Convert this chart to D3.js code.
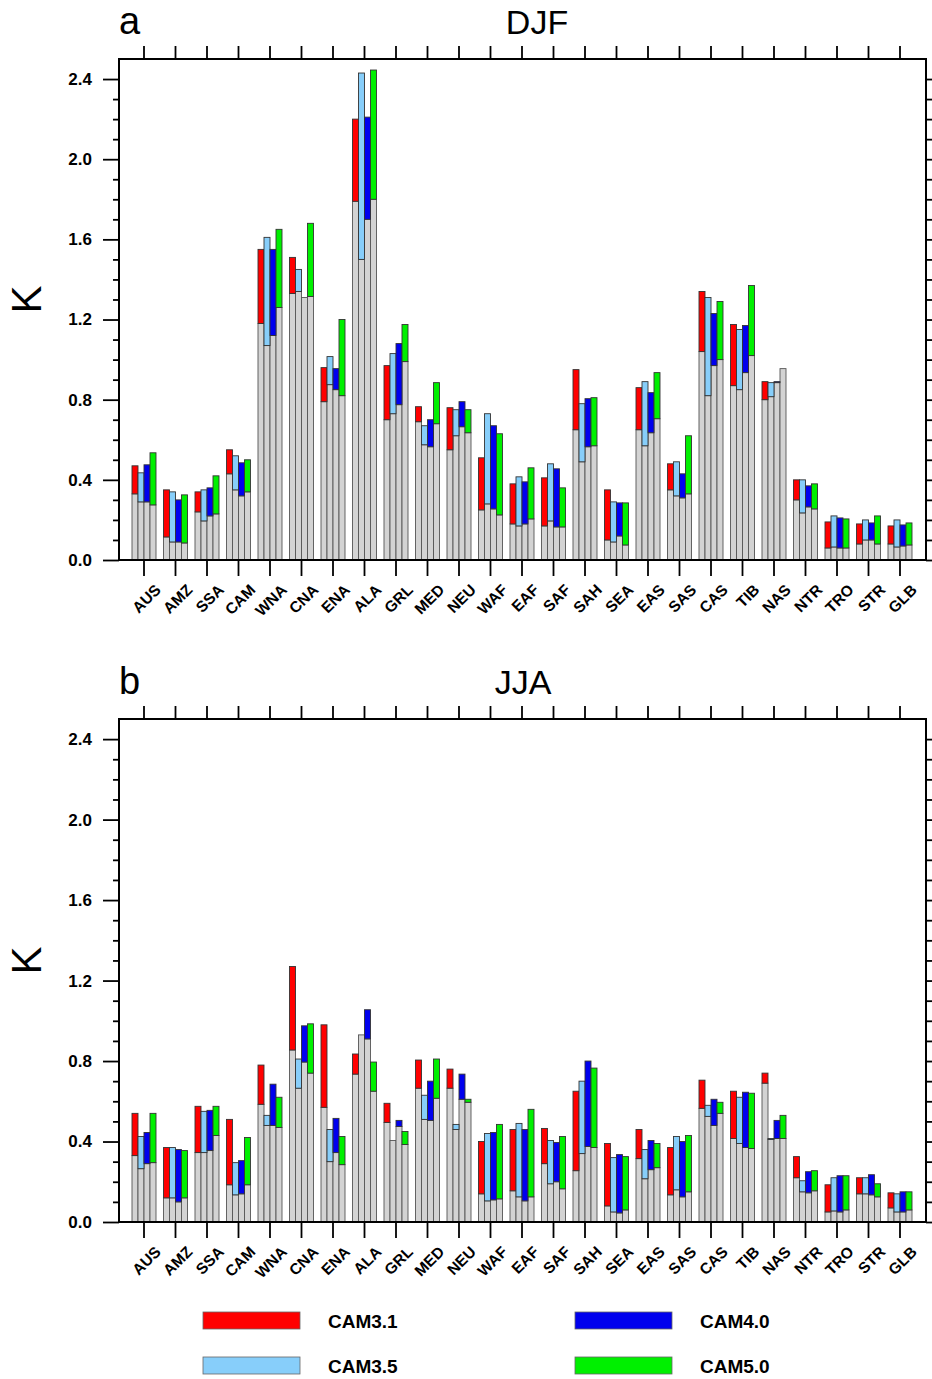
<!DOCTYPE html>
<html lang="en">
<head>
<meta charset="utf-8">
<style>
  body { margin: 0; background: #fff; }
  text { font-family: "Liberation Sans", Arial, Helvetica, sans-serif; fill: #000; }
  .axis path.domain { display: none; }
  .axis line { stroke: #000; stroke-width: 1.8; }
</style>
<script src="https://d3js.org/d3.v7.min.js"></script>
</head>
<body>
<svg width="932" height="1379"></svg>
<script>
var regions = ["AUS", "AMZ", "SSA", "CAM", "WNA", "CNA", "ENA", "ALA", "GRL", "MED", "NEU", "WAF", "EAF",
               "SAF", "SAH", "SEA", "EAS", "SAS", "CAS", "TIB", "NAS", "NTR", "TRO", "STR", "GLB"];
var models = ["CAM3.1", "CAM3.5", "CAM4.0", "CAM5.0"];
var colors = ["#ff0000", "#87cefa", "#0000ee", "#00f000"];
var yTicks = [0, 0.4, 0.8, 1.2, 1.6, 2.0, 2.4];
var yMinor = [0.1, 0.2, 0.3, 0.5, 0.6, 0.7, 0.9, 1.0, 1.1, 1.3, 1.4, 1.5, 1.7, 1.8, 1.9, 2.1, 2.2, 2.3];

// DJF: low end (grey part) and high end of each model's range
var djfLow31 = [0.33, 0.115, 0.24, 0.43, 1.18, 1.33, 0.79, 1.79, 0.70, 0.69, 0.55, 0.25, 0.18, 0.17, 0.65, 0.10, 0.65, 0.35, 1.04, 0.87, 0.80, 0.30, 0.06, 0.08, 0.08];
var djfHigh31 = [0.47, 0.35, 0.34, 0.55, 1.55, 1.51, 0.96, 2.20, 0.97, 0.765, 0.76, 0.51, 0.38, 0.41, 0.95, 0.35, 0.86, 0.48, 1.34, 1.175, 0.89, 0.40, 0.19, 0.18, 0.17];
var djfLow35 = [0.29, 0.09, 0.195, 0.35, 1.07, 1.34, 0.875, 1.50, 0.73, 0.575, 0.62, 0.28, 0.17, 0.195, 0.49, 0.09, 0.57, 0.32, 0.82, 0.85, 0.815, 0.235, 0.065, 0.10, 0.065];
var djfHigh35 = [0.435, 0.34, 0.35, 0.52, 1.61, 1.45, 1.015, 2.43, 1.03, 0.67, 0.75, 0.73, 0.415, 0.48, 0.78, 0.29, 0.89, 0.49, 1.31, 1.15, 0.885, 0.40, 0.22, 0.20, 0.20];
var djfLow40 = [0.29, 0.09, 0.22, 0.32, 1.12, 1.31, 0.85, 1.70, 0.775, 0.565, 0.665, 0.255, 0.18, 0.165, 0.565, 0.12, 0.635, 0.31, 0.97, 0.935, 0.885, 0.265, 0.06, 0.10, 0.07];
var djfHigh40 = [0.475, 0.30, 0.36, 0.485, 1.55, 1.31, 0.955, 2.21, 1.08, 0.70, 0.79, 0.67, 0.39, 0.455, 0.805, 0.285, 0.835, 0.43, 1.23, 1.17, 0.89, 0.37, 0.21, 0.185, 0.175];
var djfLow50 = [0.275, 0.085, 0.23, 0.34, 1.26, 1.315, 0.82, 1.80, 0.99, 0.68, 0.635, 0.225, 0.205, 0.165, 0.57, 0.075, 0.705, 0.33, 1.00, 1.02, 0.955, 0.255, 0.06, 0.08, 0.075];
var djfHigh50 = [0.535, 0.325, 0.42, 0.50, 1.65, 1.68, 1.20, 2.445, 1.175, 0.885, 0.75, 0.63, 0.46, 0.36, 0.81, 0.285, 0.935, 0.62, 1.29, 1.37, 0.955, 0.38, 0.205, 0.22, 0.185];

// JJA
var jjaLow31 = [0.33, 0.12, 0.345, 0.185, 0.585, 0.855, 0.57, 0.735, 0.495, 0.665, 0.665, 0.14, 0.155, 0.29, 0.255, 0.08, 0.315, 0.135, 0.565, 0.415, 0.69, 0.22, 0.05, 0.14, 0.07];
var jjaHigh31 = [0.54, 0.37, 0.575, 0.51, 0.78, 1.27, 0.98, 0.835, 0.59, 0.805, 0.76, 0.40, 0.46, 0.465, 0.65, 0.39, 0.46, 0.37, 0.705, 0.65, 0.74, 0.325, 0.185, 0.22, 0.145];
var jjaLow35 = [0.265, 0.12, 0.345, 0.135, 0.48, 0.665, 0.30, 0.93, 0.405, 0.51, 0.46, 0.105, 0.125, 0.19, 0.34, 0.05, 0.215, 0.16, 0.525, 0.39, 0.41, 0.15, 0.055, 0.14, 0.05];
var jjaHigh35 = [0.425, 0.37, 0.55, 0.295, 0.53, 0.81, 0.46, 0.93, 0.405, 0.63, 0.485, 0.44, 0.49, 0.405, 0.70, 0.32, 0.36, 0.425, 0.58, 0.62, 0.415, 0.205, 0.22, 0.22, 0.14];
var jjaLow40 = [0.29, 0.10, 0.355, 0.14, 0.48, 0.795, 0.345, 0.91, 0.475, 0.505, 0.61, 0.11, 0.105, 0.20, 0.375, 0.045, 0.26, 0.125, 0.48, 0.37, 0.415, 0.145, 0.05, 0.135, 0.05];
var jjaHigh40 = [0.445, 0.36, 0.555, 0.305, 0.685, 0.975, 0.515, 1.055, 0.505, 0.70, 0.735, 0.445, 0.46, 0.395, 0.80, 0.335, 0.405, 0.40, 0.61, 0.645, 0.505, 0.25, 0.23, 0.235, 0.15];
var jjaLow50 = [0.295, 0.12, 0.43, 0.185, 0.47, 0.74, 0.285, 0.65, 0.385, 0.615, 0.595, 0.115, 0.125, 0.165, 0.37, 0.06, 0.27, 0.15, 0.54, 0.365, 0.415, 0.155, 0.06, 0.125, 0.06];
var jjaHigh50 = [0.54, 0.355, 0.575, 0.42, 0.62, 0.985, 0.425, 0.795, 0.45, 0.81, 0.61, 0.485, 0.56, 0.425, 0.765, 0.325, 0.39, 0.43, 0.595, 0.64, 0.53, 0.255, 0.23, 0.19, 0.15];

var svg = d3.select("svg");
var left = 119, right = 926;

var x = d3.scaleBand().domain(regions).range([128.25, 915.75]);
var xm = d3.scaleBand().domain(models).range([-12, 12]);
var color = d3.scaleOrdinal().domain(models).range(colors);

function drawPanel(top, bottom, lows, highs, letter, season, seasonX) {
    var y = d3.scaleLinear().domain([0, 2.5]).range([bottom, top]);
    var g = svg.append("g");

    var rows = [];
    regions.forEach(function(r, i) {
        models.forEach(function(m, j) {
            rows.push({region: r, model: m, lo: lows[j][i], hi: highs[j][i]});
        });
    });

    function bx(d) { return x(d.region) + x.bandwidth() / 2 + xm(d.model); }

    // grey part, 0 to low end
    g.selectAll(".base").data(rows).enter().append("rect")
        .attr("x", bx)
        .attr("y", function(d) { return y(d.lo); })
        .attr("width", xm.bandwidth())
        .attr("height", function(d) { return y(0) - y(d.lo); })
        .attr("fill", "#d3d3d3")
        .attr("stroke", "#555")
        .attr("stroke-width", 0.9);

    // coloured part, low to high end
    g.selectAll(".range").data(rows).enter().append("rect")
        .attr("x", bx)
        .attr("y", function(d) { return y(d.hi); })
        .attr("width", xm.bandwidth())
        .attr("height", function(d) { return y(d.lo) - y(d.hi); })
        .attr("fill", function(d) { return color(d.model); })
        .attr("stroke", "#333")
        .attr("stroke-width", 0.9);

    // axes
    g.append("g").attr("class", "axis")
        .attr("transform", "translate(" + left + ",0)")
        .call(d3.axisLeft(y).tickValues(yTicks).tickSize(16).tickPadding(11).tickFormat(d3.format(".1f")))
        .selectAll("text")
        .style("font-size", "17px").style("font-weight", "bold")
        .style("font-family", "Liberation Sans, Arial, sans-serif");
    g.append("g").attr("class", "axis")
        .attr("transform", "translate(" + left + ",0)")
        .call(d3.axisLeft(y).tickValues(yMinor).tickSize(6).tickFormat(""));
    g.append("g").attr("class", "axis")
        .attr("transform", "translate(" + right + ",0)")
        .call(d3.axisRight(y).tickValues(yTicks).tickSize(16).tickFormat(""));
    g.append("g").attr("class", "axis")
        .attr("transform", "translate(" + right + ",0)")
        .call(d3.axisRight(y).tickValues(yMinor).tickSize(6).tickFormat(""));
    g.append("g").attr("class", "axis")
        .attr("transform", "translate(0," + top + ")")
        .call(d3.axisTop(x).tickSize(13).tickFormat(""));

    var xa = g.append("g").attr("class", "axis")
        .attr("transform", "translate(0," + bottom + ")")
        .call(d3.axisBottom(x).tickSize(16));
    xa.selectAll("text")
        .style("font-size", "15.5px").style("font-weight", "bold")
        .style("font-family", "Liberation Sans, Arial, sans-serif")
        .attr("text-anchor", "end")
        .attr("y", 0).attr("dy", "0.35em")
        .attr("transform", "translate(14,27) rotate(-45)");

    // frame
    g.append("rect")
        .attr("x", left).attr("y", top)
        .attr("width", right - left).attr("height", bottom - top)
        .attr("fill", "none").attr("stroke", "#000").attr("stroke-width", 2);

    g.append("text")
        .attr("x", 119).attr("y", top - 25)
        .style("font-size", "38px")
        .text(letter);
    g.append("text")
        .attr("x", seasonX).attr("y", top - 25)
        .attr("text-anchor", "middle")
        .style("font-size", "34px")
        .text(season);

    g.append("text")
        .attr("transform", "translate(41," + (top + (bottom - top) * 0.48) + ") rotate(-90)")
        .attr("text-anchor", "middle")
        .style("font-size", "42px")
        .text("K");
}

drawPanel(59, 560, [djfLow31, djfLow35, djfLow40, djfLow50], [djfHigh31, djfHigh35, djfHigh40, djfHigh50], "a", "DJF", 537);
drawPanel(719, 1222, [jjaLow31, jjaLow35, jjaLow40, jjaLow50], [jjaHigh31, jjaHigh35, jjaHigh40, jjaHigh50], "b", "JJA", 523);

// legend
var legendX = [203, 203, 575, 575];
var legendY = [1312, 1357, 1312, 1357];
var legend = svg.append("g");
models.forEach(function(m, i) {
    legend.append("rect")
        .attr("x", legendX[i]).attr("y", legendY[i])
        .attr("width", 97).attr("height", 17)
        .attr("fill", color(m))
        .attr("stroke", "#666").attr("stroke-width", 0.8);
    legend.append("text")
        .attr("x", legendX[i] + 125).attr("y", legendY[i] + 9)
        .attr("dy", "0.35em")
        .style("font-size", "19px").style("font-weight", "bold")
        .text(m);
});
</script>
</body>
</html>
